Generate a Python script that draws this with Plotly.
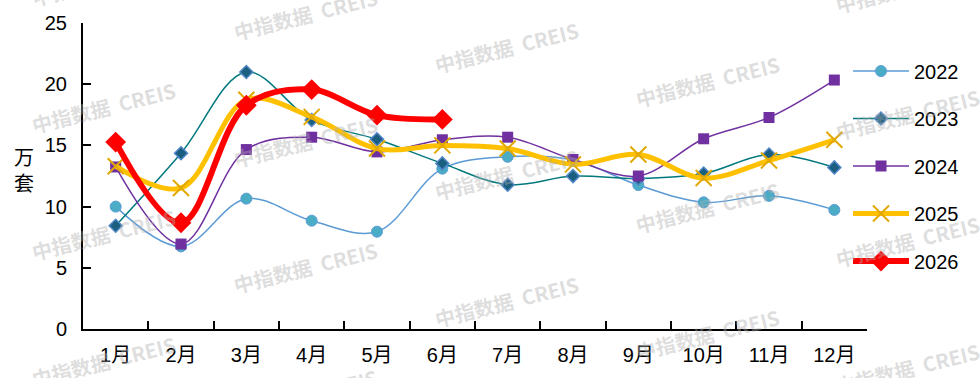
import plotly.graph_objects as go

months = ["1月", "2月", "3月", "4月", "5月", "6月", "7月", "8月", "9月", "10月", "11月", "12月"]
y2022 = [10.0, 6.75, 10.65, 8.85, 7.95, 13.1, 14.07, 13.8, 11.76, 10.35, 10.88, 9.73]
y2023 = [8.44, 14.36, 21.0, 17.07, 15.5, 13.53, 11.79, 12.49, 12.3, 12.7, 14.26, 13.2]
y2024 = [13.24, 6.94, 14.66, 15.67, 14.47, 15.46, 15.67, 13.85, 12.5, 15.54, 17.28, 20.34]
y2025 = [13.3, 11.52, 18.73, 17.33, 14.74, 15.0, 14.74, 13.45, 14.26, 12.33, 13.77, 15.46]
y2026 = [15.27, 8.68, 18.28, 19.56, 17.47, 17.12]
y_ticks = [0, 5, 10, 15, 20, 25]

FONT = "Arial, 'Liberation Sans', 'Noto Sans CJK SC', sans-serif"
W, H = 980, 378
L, R, T, B = 83, 113, 18, 49
PW, PH = W - L - R, H - T - B

fig = go.Figure()

styles = [
    ("2022", y2022, dict(color="#5B9BD5", width=1.5), dict(symbol="circle", size=11, color="#4BACC6", line=dict(color="#5B9BD5", width=1))),
    ("2023", y2023, dict(color="#00787E", width=1.5), dict(symbol="diamond", size=10, color="#1A5E80", line=dict(color="#4F86C6", width=1.5))),
    ("2024", y2024, dict(color="#7030A0", width=1.5), dict(symbol="square", size=11, color="#7030A0", line=dict(color="#7030A0", width=0))),
    ("2025", y2025, dict(color="#FFC000", width=5), dict(symbol="x-thin", size=16, color="#E0A800", line=dict(color="#E0A800", width=2))),
    ("2026", y2026, dict(color="#FF0000", width=6), dict(symbol="diamond", size=16, color="#FF0000", line=dict(color="#FF0000", width=0))),
]
for name, ys, ln, mk in styles:
    fig.add_trace(go.Scatter(
        x=months[:len(ys)], y=ys, name=name, mode="lines+markers",
        line=dict(shape="spline", smoothing=1.0, **ln), marker=mk,
        legendgroup=name,
    ))

# watermarks
ann = []
col_x = [103, 305, 506, 707, 907]
base_y = 104
for i, cx in enumerate(col_x):
    y0 = base_y + 34 * i
    for k in range(-3, 4):
        cy = y0 + 129 * k
        if -30 < cy < 420:
            ann.append(dict(
                x=(cx - L) / PW, y=(H - B - cy) / PH, xref="paper", yref="paper",
                text="<b>中指数据  CREIS</b>", showarrow=False, textangle=-14,
                font=dict(family="'Noto Sans CJK SC', sans-serif", size=20, color="rgba(175,175,175,0.42)"),
                xanchor="center", yanchor="middle",
            ))
ann.append(dict(
    x=(24 - L) / PW, y=(H - B - 168) / PH, xref="paper", yref="paper",
    text="万<br>套", showarrow=False, font=dict(family=FONT, size=20, color="#000"),
    xanchor="center", yanchor="middle", align="center",
))

fig.update_layout(
    width=W, height=H,
    margin=dict(l=L, r=R, t=T, b=B),
    plot_bgcolor="white", paper_bgcolor="white",
    font=dict(family=FONT, size=20, color="#000"),
    showlegend=True,
    legend=dict(x=(848 - L) / PW, y=(H - B - 47) / PH, xanchor="left", yanchor="top",
                font=dict(family=FONT, size=20, color="#000"), tracegroupgap=18.5,
                itemwidth=56, bgcolor="rgba(0,0,0,0)"),
    annotations=ann,
    xaxis=dict(
        type="category", categoryorder="array", categoryarray=months,
        range=[-0.5, 11.5], showgrid=False, zeroline=False,
        showline=True, linecolor="#000", linewidth=2,
        ticks="inside", tickson="boundaries", ticklen=8, tickwidth=2, tickcolor="#000",
        tickfont=dict(family=FONT, size=20), ticklabelstandoff=7,
    ),
    yaxis=dict(
        range=[0, 25], tickvals=y_ticks, showgrid=False, zeroline=False,
        showline=True, linecolor="#000", linewidth=2,
        ticks="inside", ticklen=8, tickwidth=2, tickcolor="#000",
        tickfont=dict(family=FONT, size=20), ticklabelstandoff=10,
    ),
)

fig.write_html("out.html")
